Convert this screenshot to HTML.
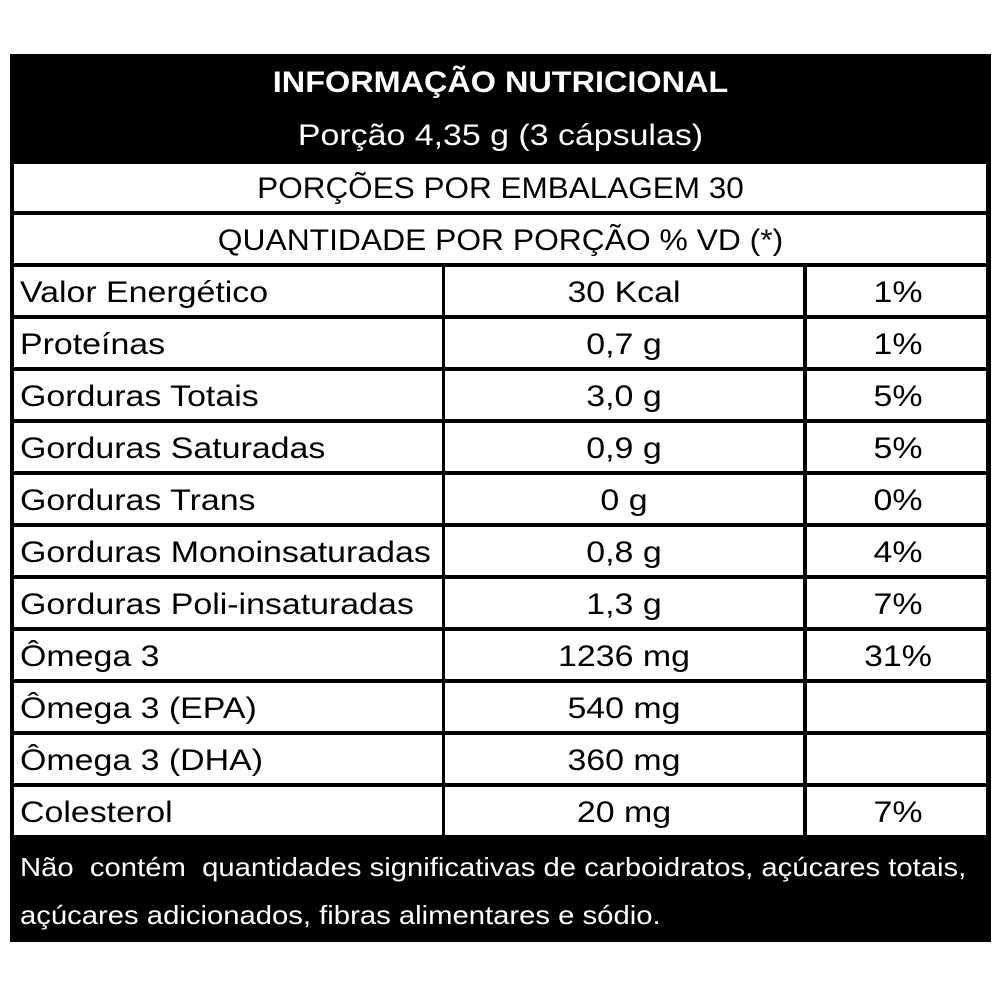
<!DOCTYPE html>
<html><head><style>
body{margin:0;background:#fff;width:1000px;height:1000px;position:relative;font-family:"Liberation Sans",sans-serif;color:#000}
.box{position:absolute;left:10px;top:54px;width:981px;height:888px;background:#000}
.t{position:absolute;white-space:nowrap;font-size:30px;transform:scaleX(1.13);transform-origin:0 0}
.c{text-align:center;transform-origin:50% 0}
.w{position:absolute;background:#fff}
</style></head><body>
<div class="box"></div>
<div class="t c" style="left:10px;width:981px;top:66px;color:#fff;font-weight:bold;font-size:30px;transform:scaleX(1.08)">INFORMAÇÃO NUTRICIONAL</div>
<div class="t c" style="left:10px;width:981px;top:119px;color:#fff">Porção 4,35 g (3 cápsulas)</div>
<div class="w" style="left:14px;top:164px;width:972px;height:47px"></div>
<div class="t c" style="left:10px;width:981px;top:172px;transform:scaleX(1.05)">PORÇÕES POR EMBALAGEM 30</div>
<div class="w" style="left:14px;top:215px;width:972px;height:48px"></div>
<div class="t c" style="left:10px;width:981px;top:224px;transform:scaleX(1.06)">QUANTIDADE POR PORÇÃO % VD (*)</div>
<div id="rows"></div>
<script>
var d=[["Valor Energético","30 Kcal","1%"],["Proteínas","0,7 g","1%"],["Gorduras Totais","3,0 g","5%"],["Gorduras Saturadas","0,9 g","5%"],["Gorduras Trans","0 g","0%"],["Gorduras Monoinsaturadas","0,8 g","4%"],["Gorduras Poli-insaturadas","1,3 g","7%"],["Ômega 3","1236 mg","31%"],["Ômega 3 (EPA)","540 mg",""],["Ômega 3 (DHA)","360 mg",""],["Colesterol","20 mg","7%"]];
var h="";
for(var i=0;i<d.length;i++){var y=267+i*52;
h+='<div class="w" style="left:14px;top:'+y+'px;width:428px;height:48px"></div>';
h+='<div class="w" style="left:445px;top:'+y+'px;width:358px;height:48px"></div>';
h+='<div class="w" style="left:807px;top:'+y+'px;width:179px;height:48px"></div>';
h+='<div class="t" style="left:20px;top:'+(y+9)+'px">'+d[i][0]+'</div>';
h+='<div class="t c" style="left:443px;width:362px;top:'+(y+9)+'px">'+d[i][1]+'</div>';
h+='<div class="t c" style="left:805px;width:186px;top:'+(y+9)+'px">'+d[i][2]+'</div>';}
document.getElementById("rows").innerHTML=h;
</script>
<div class="t" style="left:20px;top:852px;color:#fff;font-size:26px;transform:scaleX(1.125)">Não&nbsp; contém&nbsp; quantidades significativas de carboidratos, açúcares totais,</div>
<div class="t" style="left:20px;top:900px;color:#fff;font-size:26px;transform:scaleX(1.125)">açúcares adicionados, fibras alimentares e sódio.</div>
</body></html>
